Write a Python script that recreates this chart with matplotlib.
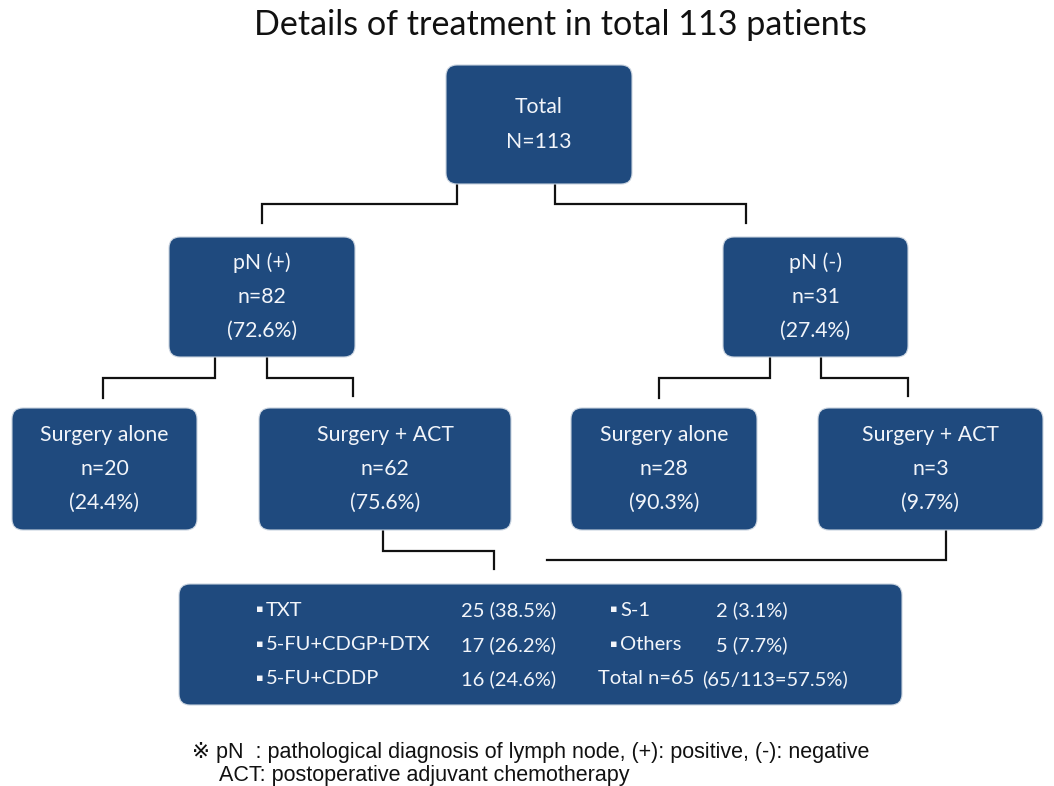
import matplotlib
matplotlib.use("Agg")
import matplotlib.pyplot as plt
from matplotlib.patches import FancyBboxPatch

# ---------------- data ----------------
title = "Details of treatment in total 113 patients"
total_n = 113
pn_labels = ["pN (+)", "pN (-)"]
pn_n = [82, 31]
pn_pct = [72.6, 27.4]
treat_labels = ["Surgery alone", "Surgery + ACT", "Surgery alone", "Surgery + ACT"]
treat_n = [20, 62, 28, 3]
treat_pct = [24.4, 75.6, 90.3, 9.7]
regimens = ["TXT", "5-FU+CDGP+DTX", "5-FU+CDDP", "S-1", "Others"]
regimen_n = [25, 17, 16, 2, 5]
regimen_pct = [38.5, 26.2, 24.6, 3.1, 7.7]
act_total = 65
act_pct = 57.5
footnote = ["\u203b pN  : pathological diagnosis of lymph node, (+): positive, (-): negative",
            "ACT: postoperative adjuvant chemotherapy"]

# ---------------- style ----------------
BOX = "#1f4a7e"
TXT = "#f2f5fa"
FONT = "Lato"
NOTE_FONT = ["Liberation Sans", "DejaVu Sans"]

W, H = 1054, 786
fig = plt.figure(figsize=(W / 100, H / 100), dpi=100)
ax = fig.add_axes([0, 0, 1, 1])
ax.set_xlim(0, W)
ax.set_ylim(H, 0)
ax.axis("off")


def box(x0, y0, x1, y1):
    p = FancyBboxPatch((x0, y0), x1 - x0, y1 - y0,
                       boxstyle="round,pad=0,rounding_size=11",
                       fc=BOX, ec="#c9d3df", lw=0.8, zorder=2)
    ax.add_patch(p)


def lines_in_box(x0, y0, x1, y1, texts, spacing=34, size=15.3):
    cx = (x0 + x1) / 2
    cy = (y0 + y1) / 2
    n = len(texts)
    for i, t in enumerate(texts):
        y = cy + (i - (n - 1) / 2) * spacing
        ax.text(cx, y, t, ha="center", va="center", color=TXT,
                fontsize=size, family=FONT, zorder=3)


def connector(pts):
    xs, ys = zip(*pts)
    ax.plot(xs, ys, color="#111111", lw=1.6, solid_joinstyle="miter", zorder=1)


def bullet(x, y):
    ax.text(x, y - 1, "\u25aa", ha="center", va="center", color=TXT, fontsize=8,
            family="DejaVu Sans", zorder=3)


# title
ax.text(560, 25, title, ha="center", va="center", fontsize=24.6, family=FONT, color="#111111")

# total box
tb = (446, 65, 632, 184)
box(*tb)
lines_in_box(*tb, ["Total", f"N={total_n}"], spacing=35)

# pN boxes
pn_boxes = [(169, 237, 355, 357), (723, 237, 908, 357)]
for b, lab, n, pc in zip(pn_boxes, pn_labels, pn_n, pn_pct):
    box(*b)
    lines_in_box(*b, [lab, f"n={n}", f"({pc}%)"])

# treatment boxes
tr_boxes = [(12, 408, 197, 530), (259, 408, 511, 530),
            (571, 408, 757, 530), (818, 408, 1043, 530)]
for b, lab, n, pc in zip(tr_boxes, treat_labels, treat_n, treat_pct):
    box(*b)
    lines_in_box(*b, [lab, f"n={n}", f"({pc}%)"])

# connectors
connector([(457, 184), (457, 204), (262, 204), (262, 223)])
connector([(555, 184), (555, 204), (746, 204), (746, 223)])
connector([(215, 357), (215, 378), (103, 378), (103, 398)])
connector([(267, 357), (267, 378), (353, 378), (353, 396)])
connector([(770, 357), (770, 378), (659, 378), (659, 398)])
connector([(821, 357), (821, 378), (908, 378), (908, 396)])
connector([(383, 530), (383, 551), (494, 551), (494, 569)])
connector([(946, 530), (946, 560), (547, 560)])

# bottom regimen box
bb = (179, 584, 902, 705)
box(*bb)
BS = 14.5
row_y = [610, 645, 679]
left_rows = list(zip(regimens[:3], regimen_n[:3], regimen_pct[:3]))
for y, (lab, n, pc) in zip(row_y, left_rows):
    bullet(260, y)
    ax.text(266, y, lab, ha="left", va="center", color=TXT, fontsize=BS, family=FONT, zorder=3)
    ax.text(461, y, f"{n} ({pc}%)", ha="left", va="center", color=TXT, fontsize=BS,
            family=FONT, zorder=3)
right_rows = list(zip(regimens[3:], regimen_n[3:], regimen_pct[3:]))
for y, (lab, n, pc) in zip(row_y[:2], right_rows):
    bullet(614, y)
    ax.text(620, y, lab, ha="left", va="center", color=TXT, fontsize=BS, family=FONT, zorder=3)
    ax.text(716, y, f"{n} ({pc}%)", ha="left", va="center", color=TXT, fontsize=BS,
            family=FONT, zorder=3)
ax.text(598, row_y[2], f"Total n={act_total}", ha="left", va="center", color=TXT,
        fontsize=BS, family=FONT, zorder=3)
ax.text(702, row_y[2], f"({act_total}/{total_n}={act_pct}%)", ha="left", va="center",
        color=TXT, fontsize=BS, family=FONT, zorder=3)

# footnote
ax.text(192, 758, footnote[0], ha="left", va="baseline", fontsize=15.5,
        family=NOTE_FONT, color="#111111")
ax.text(219, 781, footnote[1], ha="left", va="baseline", fontsize=15.5,
        family=NOTE_FONT, color="#111111")

fig.savefig("out.png", dpi=100, facecolor="white")
